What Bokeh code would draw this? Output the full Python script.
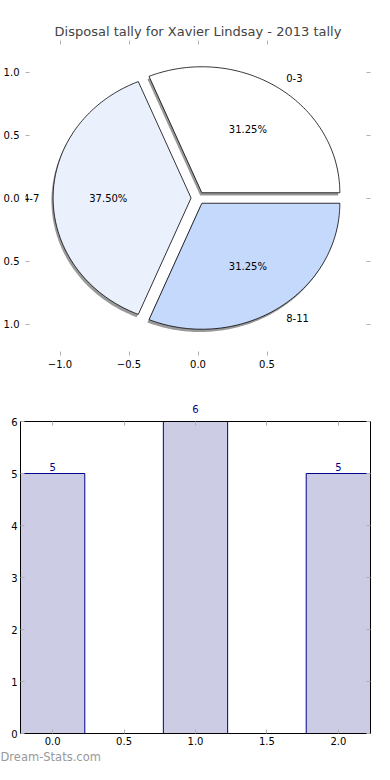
import numpy as np
from bokeh.plotting import figure
from bokeh.models import FixedTicker, LinearAxis, ColumnDataSource, Title, LabelSet, Label
from bokeh.layouts import column
from bokeh.embed import file_html
from bokeh.resources import INLINE
from bokeh.core.properties import value

# ---------------- data ----------------
title_text = "Disposal tally for Xavier Lindsay - 2013 tally"
pie_labels = ["0-3", "4-7", "8-11"]
pie_values = [5, 6, 5]
pie_colors = ["#ffffff", "#eaf1fd", "#c5d9fc"]
pie_explode = [0.05, 0.05, 0.05]

pie_xticks = [-1.0, -0.5, 0.0, 0.5]
pie_xtick_labels = ["\u22121.0", "\u22120.5", "0.0", "0.5"]
pie_yticks = [-1.0, -0.5, 0.0, 0.5, 1.0]
pie_ytick_labels = ["1.0", "0.5", "0.0", "0.5", "1.0"]  # left edge of the picture cuts the minus signs

bar_x = [0, 1, 2]
bar_values = [5, 6, 5]
bar_ymax = 6
bar_xticks = [0.0, 0.5, 1.0, 1.5, 2.0]
bar_xtick_labels = ["0.0", "0.5", "1.0", "1.5", "2.0"]
bar_yticks = [0, 1, 2, 3, 4, 5, 6]
bar_ytick_labels = ["0", "1", "2", "3", "4", "5", "6"]
watermark = "Dream-Stats.com"

FONT = "DejaVu Sans"
TICK_GRAY = "#b0b0b0"
NAVY = "#00008b"


def add_axis(p, side, ticks, labels=None, line_color=None, standoff=4):
    ax = LinearAxis(ticker=FixedTicker(ticks=ticks))
    ax.axis_line_color = line_color
    ax.major_tick_in = 4
    ax.major_tick_out = 0
    ax.major_tick_line_color = TICK_GRAY
    ax.minor_tick_line_color = None
    ax.major_label_text_font = FONT
    ax.major_label_text_font_size = "10px"
    ax.major_label_text_color = "black"
    if labels is None:
        ax.major_label_text_font_size = "1px"
        ax.major_label_text_color = None
        ax.major_label_standoff = 0
    else:
        ax.major_label_overrides = {float(t): l for t, l in zip(ticks, labels)}
        ax.major_label_standoff = standoff
    p.add_layout(ax, side)
    return ax


# ---------------- pie ----------------
p1 = figure(width=374, height=372, x_range=(-1.25, 1.25), y_range=(-1.25, 1.25),
            output_backend="svg", toolbar_location=None,
            x_axis_location=None, y_axis_location=None,
            min_border_left=20, min_border_right=4, min_border_top=40, min_border_bottom=17)
p1.grid.visible = False
p1.outline_line_color = None
p1.title.text = title_text
p1.title.align = "center"
p1.title.text_font = FONT
p1.title.text_font_style = "normal"
p1.title.text_font_size = "13px"
p1.title.standoff = 3

add_axis(p1, "below", pie_xticks, pie_xtick_labels, standoff=4)
add_axis(p1, "above", pie_xticks)
add_axis(p1, "left", pie_yticks, pie_ytick_labels, standoff=6)
add_axis(p1, "right", pie_yticks)

total = float(sum(pie_values))
fracs = [v / total for v in pie_values]
starts = np.cumsum([0.0] + fracs[:-1]) * 2 * np.pi
ends = np.cumsum(fracs) * 2 * np.pi

wx, wy, sx, sy = [], [], [], []
lab_x, lab_y, lab_align = [], [], []
pct_x, pct_y, pct_text = [], [], []
for v, f, a0, a1, ex in zip(pie_values, fracs, starts, ends, pie_explode):
    mid = 0.5 * (a0 + a1)
    cx, cy = ex * np.cos(mid), ex * np.sin(mid)
    th = np.linspace(a0, a1, 120)
    xs = [cx] + list(cx + np.cos(th)) + [cx]
    ys = [cy] + list(cy + np.sin(th)) + [cy]
    wx.append(xs)
    wy.append(ys)
    sx.append([x - 0.012 for x in xs])
    sy.append([y - 0.022 for y in ys])
    lx = cx + 1.1 * np.cos(mid)
    ly = cy + 1.1 * np.sin(mid)
    lab_x.append(lx)
    lab_y.append(ly)
    lab_align.append("left" if lx > 0 else "right")
    pct_x.append(cx + 0.6 * np.cos(mid))
    pct_y.append(cy + 0.6 * np.sin(mid))
    pct_text.append("%.2f%%" % (f * 100))

p1.patches(sx, sy, fill_color="#999999", line_color=None)
p1.patches(wx, wy, fill_color=pie_colors, line_color="black", line_width=0.8)

lab_src = ColumnDataSource(dict(x=lab_x, y=lab_y, text=pie_labels, align=lab_align))
p1.add_layout(LabelSet(x="x", y="y", text="text", source=lab_src, text_align="align",
                       text_baseline="middle", text_font=value(FONT),
                       text_font_size=value("10px"), text_color=value("black"),
                       level="overlay"))
pct_src = ColumnDataSource(dict(x=pct_x, y=pct_y, text=pct_text))
p1.add_layout(LabelSet(x="x", y="y", text="text", source=pct_src, text_align=value("center"),
                       text_baseline=value("middle"), text_font=value(FONT),
                       text_font_size=value("10px"), text_color=value("black")))

# ---------------- bars ----------------
p2 = figure(width=374, height=392, x_range=(-0.225, 2.225), y_range=(0, bar_ymax),
            output_backend="svg", toolbar_location=None,
            x_axis_location=None, y_axis_location=None,
            min_border_left=20, min_border_right=4, min_border_top=49, min_border_bottom=29)
p2.grid.visible = False
p2.outline_line_color = "black"
p2.outline_line_width = 1

add_axis(p2, "below", bar_xticks, bar_xtick_labels, line_color="black", standoff=3)
add_axis(p2, "above", bar_xticks, line_color="black")
add_axis(p2, "left", bar_yticks, bar_ytick_labels, line_color="black", standoff=3)
add_axis(p2, "right", bar_yticks, line_color="black")

bar_src = ColumnDataSource(dict(x=bar_x, top=bar_values))
p2.vbar(x="x", top="top", width=0.45, source=bar_src, fill_color="#ccccE5",
        line_color=NAVY, line_width=1)

# value labels: inside the frame as Labels, at the frame top through an extra axis
top_x, top_t = [], []
for bx, bv in zip(bar_x, bar_values):
    if bv >= bar_ymax:
        top_x.append(float(bx))
        top_t.append(str(bv))
    else:
        p2.add_layout(Label(x=bx, y=bv, text=str(bv), text_align="center",
                            text_baseline="bottom", y_offset=3, text_font=FONT,
                            text_font_size="10px", text_color=NAVY))
if top_x:
    vax = LinearAxis(ticker=FixedTicker(ticks=top_x))
    vax.axis_line_color = None
    vax.major_tick_line_color = None
    vax.minor_tick_line_color = None
    vax.major_label_overrides = {t: s for t, s in zip(top_x, top_t)}
    vax.major_label_text_font = FONT
    vax.major_label_text_font_size = "10px"
    vax.major_label_text_color = NAVY
    vax.major_label_standoff = 3
    p2.add_layout(vax, "above")

wm = Title(text=watermark, align="left", offset=-20, text_font=FONT,
           text_font_size="11.5px", text_font_style="normal", text_color="#999999", standoff=1)
p2.add_layout(wm, "below")

layout = column(column(p1), column(p2), spacing=0)
open("out.html", "w").write(file_html(layout, INLINE))
